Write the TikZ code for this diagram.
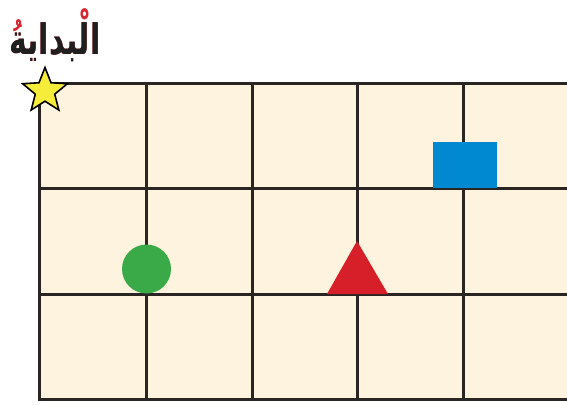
\documentclass[tikz,border=0pt]{standalone}
\usepackage{fontspec}
\usepackage{graphicx}
\newfontfamily\arabicfont[Script=Arabic]{DejaVu Sans}
\TeXXeTstate=1
\usetikzlibrary{shapes.geometric}
\definecolor{cream}{HTML}{FDF3DE}
\definecolor{gridline}{HTML}{2A2522}
\definecolor{sqblue}{HTML}{0088D1}
\definecolor{cgreen}{HTML}{3AAA48}
\definecolor{tred}{HTML}{D71F2A}
\definecolor{staryel}{HTML}{F6EC3A}
\definecolor{markred}{HTML}{D8262E}
\tikzset{
  gridlines/.style={draw=gridline, line width=3pt},
  label/.style={font=\arabicfont\bfseries\fontsize{30}{34}\selectfont, inner sep=0pt, anchor=base},
}
\newcommand{\tallx}[1]{\scalebox{1}[1.4]{#1}}
\begin{document}
\begin{tikzpicture}[x=1pt,y=-1pt]
\useasboundingbox (0,0) rectangle (567,404);
\fill[cream] (39,83) rectangle (567,399);
% grid
\foreach \x in {146,252,357,463} \draw[gridlines] (\x,83) -- (\x,399);
\foreach \y in {83,188,294,399} \draw[gridlines] (39,\y) -- (567,\y);
\draw[gridlines] (39,83) -- (39,400.5);
% shapes
\node[fill=sqblue, minimum width=64pt, minimum height=46pt, inner sep=0pt, anchor=south] (square) at (465,188) {};
\node[fill=cgreen, circle, minimum size=49pt, inner sep=0pt] (circ) at (146.5,269) {};
\fill[tred] (327,294) -- (357,241) -- (388,294) -- cycle;
\coordinate (tri) at (357,268);
\node[star, star points=5, star point ratio=2.3, minimum size=47pt, inner sep=0pt, fill=staryel, draw=black, line width=1.6pt] (start) at (45,91) {};
% label
\node[label, text=markred] (lblmarks) at (55,55) {\tallx{\beginR الْبدايةُ\endR}};
\node[label, text=black!88] (lbl) at (55,55) {\tallx{\beginR البداية\endR}};
\end{tikzpicture}
\end{document}
